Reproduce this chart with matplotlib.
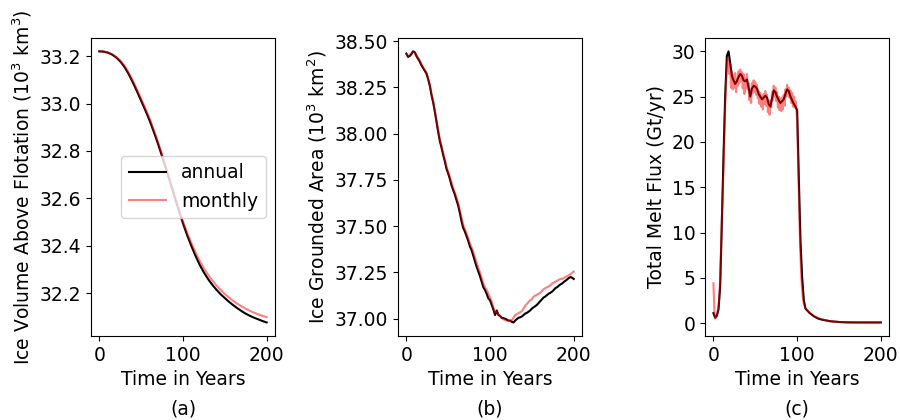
import matplotlib
matplotlib.use("Agg")
import matplotlib.pyplot as plt

# (a) ice volume above flotation, 10^3 km^3
vol_years = [0, 5, 10, 15, 20, 25, 30, 35, 40, 45, 50, 55, 60, 65, 70, 75, 80, 85, 90, 95, 100,
             105, 110, 115, 120, 125, 130, 135, 140, 145, 150, 155, 160, 165, 170, 175, 180,
             185, 190, 195, 200]
vol_annual = [33.220, 33.219, 33.215, 33.207, 33.195, 33.178, 33.155, 33.125, 33.090, 33.052,
              33.012, 32.972, 32.930, 32.882, 32.832, 32.778, 32.722, 32.665, 32.607, 32.550,
              32.495, 32.445, 32.400, 32.358, 32.320, 32.288, 32.260, 32.236, 32.215, 32.196,
              32.180, 32.164, 32.150, 32.137, 32.125, 32.114, 32.105, 32.097, 32.090, 32.083,
              32.077]
vol_monthly = [33.220, 33.219, 33.215, 33.208, 33.197, 33.181, 33.160, 33.131, 33.097, 33.060,
               33.020, 32.980, 32.938, 32.890, 32.840, 32.785, 32.728, 32.670, 32.612, 32.556,
               32.503, 32.455, 32.412, 32.372, 32.336, 32.305, 32.278, 32.254, 32.233, 32.214,
               32.197, 32.182, 32.168, 32.156, 32.145, 32.135, 32.126, 32.118, 32.111, 32.105,
               32.099]

# (b) grounded area, 10^3 km^2
area_years = list(range(0, 201, 2))
area_annual = [38.433, 38.415, 38.420, 38.430, 38.445, 38.440, 38.420, 38.405, 38.390, 38.370,
               38.355, 38.340, 38.325, 38.295, 38.260, 38.210, 38.170, 38.120, 38.065, 38.010,
               37.960, 37.925, 37.885, 37.850, 37.810, 37.785, 37.755, 37.720, 37.695, 37.670,
               37.640, 37.610, 37.570, 37.525, 37.490, 37.470, 37.445, 37.420, 37.390, 37.370,
               37.340, 37.310, 37.280, 37.255, 37.230, 37.200, 37.170, 37.155, 37.135, 37.110,
               37.100, 37.075, 37.050, 37.020, 37.045, 37.020, 37.015, 37.005, 37.003, 37.000,
               36.995, 36.990, 36.990, 36.983, 36.980, 36.990, 36.998, 37.005, 37.008, 37.012,
               37.020, 37.028, 37.032, 37.038, 37.045, 37.055, 37.062, 37.068, 37.075, 37.085,
               37.095, 37.105, 37.115, 37.120, 37.128, 37.135, 37.140, 37.146, 37.155, 37.165,
               37.170, 37.178, 37.185, 37.190, 37.198, 37.205, 37.212, 37.220, 37.225, 37.222,
               37.215]
area_monthly = [38.430, 38.420, 38.425, 38.435, 38.445, 38.440, 38.425, 38.410, 38.395, 38.375,
                38.360, 38.345, 38.330, 38.300, 38.265, 38.215, 38.175, 38.125, 38.070, 38.020,
                37.970, 37.935, 37.895, 37.860, 37.820, 37.795, 37.765, 37.735, 37.705, 37.680,
                37.655, 37.625, 37.585, 37.545, 37.505, 37.485, 37.460, 37.435, 37.405, 37.385,
                37.360, 37.330, 37.300, 37.275, 37.250, 37.220, 37.190, 37.170, 37.155, 37.135,
                37.115, 37.090, 37.060, 37.035, 37.040, 37.025, 37.015, 37.003, 36.998, 36.992,
                36.990, 36.990, 36.988, 36.992, 37.005, 37.020, 37.025, 37.030, 37.035, 37.040,
                37.055, 37.070, 37.080, 37.090, 37.100, 37.105, 37.120, 37.125, 37.130, 37.135,
                37.140, 37.150, 37.160, 37.165, 37.170, 37.175, 37.180, 37.190, 37.195, 37.200,
                37.205, 37.210, 37.215, 37.215, 37.220, 37.225, 37.230, 37.235, 37.240, 37.248,
                37.255]

# (c) total melt flux, Gt/yr
flux_years_ann = list(range(0, 111, 2)) + [115, 120, 125, 130, 140, 150, 160, 170, 180, 190, 200]
flux_annual = [1.1, 0.6, 0.8, 1.5, 4.0, 11.0, 18.5, 25.0, 29.5, 30.0,
               28.7, 27.3, 26.8, 26.4, 26.7, 27.2, 27.5, 27.3, 26.8, 26.7,
               26.9, 26.0, 25.0, 25.9, 26.2, 26.1, 25.9, 25.3, 25.0, 24.7,
               24.9, 25.1, 24.9, 24.2, 23.9, 24.8, 25.7, 25.5, 25.0, 24.6,
               24.3, 24.5, 24.7, 25.3, 25.8, 25.6, 25.0, 24.6, 24.2, 23.9,
               23.5, 16.0, 9.0, 5.0, 2.5, 1.6,
               1.1, 0.75, 0.5, 0.37, 0.2, 0.12, 0.08, 0.07, 0.07, 0.07, 0.07]
flux_years_mon = list(range(0, 111)) + [115, 120, 125, 130, 140, 150, 160, 170, 180, 190, 200]
flux_monthly = [4.4, 1.5, 0.5, 0.6, 0.9, 1.3, 1.8, 3.0, 5.0, 8.0,
                11.5, 14.0, 17.0, 20.5, 24.0, 26.5, 28.0, 29.3, 29.0, 27.5,
                28.6, 26.0, 27.8, 25.8, 27.4, 26.0, 27.6, 25.5, 27.0, 26.2,
                27.8, 26.5, 28.0, 26.8, 27.7, 25.9, 27.5, 25.3, 27.0, 26.0,
                27.5, 25.8, 26.5, 24.6, 25.8, 24.3, 26.5, 25.4, 26.8, 25.5,
                26.6, 25.2, 26.3, 24.8, 25.6, 24.2, 25.4, 23.9, 25.0, 23.6,
                25.3, 24.2, 25.6, 24.0, 25.2, 23.3, 24.5, 23.0, 24.6, 23.8,
                25.5, 24.6, 26.2, 25.0, 26.0, 24.5, 25.5, 23.8, 25.0, 23.5,
                24.8, 23.4, 24.9, 23.6, 25.2, 24.0, 25.8, 25.0, 26.3, 25.4,
                26.0, 24.9, 25.7, 24.3, 25.4, 23.9, 25.0, 23.8, 24.5, 23.5,
                22.5, 18.5, 14.5, 10.5, 7.2, 5.0, 3.6, 2.7, 2.1, 1.8, 1.6,
                1.15, 0.8, 0.55, 0.4, 0.2, 0.12, 0.08, 0.07, 0.07, 0.07, 0.07]

plt.rcParams["font.size"] = 13.5

fig, axes = plt.subplots(1, 3, figsize=(9, 4.2), dpi=100)
fig.subplots_adjust(left=0.101, right=0.988, bottom=0.2, top=0.91, wspace=0.668)

mon_kw = dict(color="red", alpha=0.5, lw=1.5, label="monthly")
ann_kw = dict(color="black", lw=1.5, label="annual")

ax = axes[0]
ax.plot(vol_years, vol_annual, **ann_kw)
ax.plot(vol_years, vol_monthly, **mon_kw)
ax.set_yticks([32.2, 32.4, 32.6, 32.8, 33.0, 33.2])
ax.set_ylabel("Ice Volume Above Flotation (10$^3$ km$^3$)")
ax.legend(loc="center right")

ax = axes[1]
ax.plot(area_years, area_annual, **ann_kw)
ax.plot(area_years, area_monthly, **mon_kw)
ax.set_yticks([37.0, 37.25, 37.5, 37.75, 38.0, 38.25, 38.5])
ax.set_ylabel("Ice Grounded Area (10$^3$ km$^2$)")

ax = axes[2]
ax.plot(flux_years_ann, flux_annual, **ann_kw)
ax.plot(flux_years_mon, flux_monthly, **mon_kw)
ax.set_yticks([0, 5, 10, 15, 20, 25, 30])
ax.set_ylabel("Total Melt Flux (Gt/yr)")

for ax, tag in zip(axes, ["(a)", "(b)", "(c)"]):
    ax.set_xticks([0, 100, 200])
    ax.set_xlabel("Time in Years")
    ax.text(0.5, -0.245, tag, transform=ax.transAxes, ha="center", va="center")

fig.savefig("out.png", dpi=100)
